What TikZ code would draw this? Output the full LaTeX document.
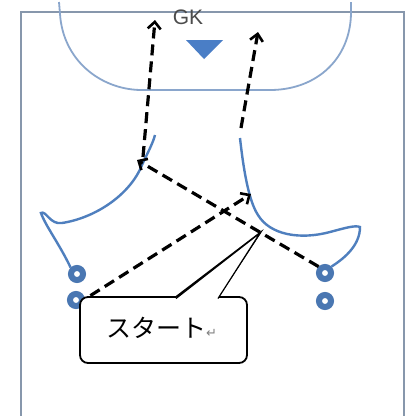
\documentclass[tikz,border=0pt]{standalone}
\usepackage{fontspec}
\setmainfont{Liberation Sans}
\newfontfamily\jpfont{Noto Sans CJK JP}
\newfontfamily\symfont{DejaVu Sans}
\usetikzlibrary{arrows.meta}
\definecolor{courtline}{HTML}{8797AC}
\definecolor{arcline}{HTML}{8AA6CC}
\definecolor{playline}{HTML}{4F7FBE}
\definecolor{cone}{HTML}{4A77B2}
\definecolor{gkblue}{HTML}{4A7EC6}
\tikzset{
  move/.style={dash pattern=on 11pt off 6pt, line width=3.2pt, -{Straight Barb[length=7pt,width=13pt,line width=2.6pt]}},
  ring/.style={circle, draw=cone, line width=6pt, minimum size=12pt, inner sep=0pt},
  zone/.style={draw=playline, line width=2.4pt},
}
\begin{document}
\begin{tikzpicture}[x=1pt,y=-1pt]
\useasboundingbox (0,0) rectangle (409,416);
\fill[white] (0,0) rectangle (409,416);
% court
\draw[courtline, line width=2.8pt] (21,420) -- (21,12) -- (404,12) -- (404,420);
% goal area
\draw[arcline, line width=1.8pt] (59,2) -- (60,14) .. controls (63,60) and (100,89) .. (140,90) -- (272,90) .. controls (318,89) and (350,58) .. (351,14) -- (351,2);
% GK
\node[font={\fontsize{21}{23}\selectfont}, text=black!70, inner sep=0pt] (gk) at (188,17) {GK};
\fill[gkblue] (186,40) -- (223,40) -- (204,59) -- cycle;
% cones
\node[ring] (c1) at (77,274) {};
\node[ring] (c2) at (76,300) {};
\node[ring] (c3) at (325,273) {};
\node[ring] (c4) at (325,301) {};
% blue zones
\draw[zone] (c1.north west) .. controls (60,245) and (45,225) .. (41,213) .. controls (46,210) and (50,225) .. (62,223) .. controls (95,218) and (130,195) .. (142,165) .. controls (148,152) and (153,143) .. (155,135);
\draw[zone] (240,138) .. controls (243,165) and (248,200) .. (258,215) .. controls (270,235) and (300,240) .. (330,232) .. controls (345,228) and (355,225) .. (360,227) .. controls (360,245) and (345,258) .. (c3.north east);
% movement arrows
\coordinate (t1) at (155,20);
\coordinate (s1) at (143,157);
\coordinate (t2) at (258,32);
\coordinate (s2) at (241,128);
\coordinate (t3) at (137,160);
\coordinate (t4) at (251,194);
\draw[move] (s1) -- (t1);
\draw[move] (s2) -- (t2);
\draw[move] (c3.north west) -- (t3);
\draw[move] ([xshift=8pt,yshift=-2pt]c2.north east) -- (t4);
% callout
\coordinate (tip) at (260,233);
\draw[line width=1.8pt, fill=white, rounded corners=8pt] (176,297) [sharp corners] -- (tip) -- (218,297) [rounded corners=8pt] -- (247,297) -- (247,363) -- (80,363) -- (80,297) -- (176,297);
\draw[line width=1.2pt,fill=white] (176,298.5) -- (tip) -- (218,298.5);
\node[anchor=west, inner sep=0pt] (start) at (106,328) {\jpfont\fontsize{25}{27}\selectfont スタート\textcolor{black!50}{\symfont\fontsize{13}{14}\selectfont ↵}};
\end{tikzpicture}
\end{document}
